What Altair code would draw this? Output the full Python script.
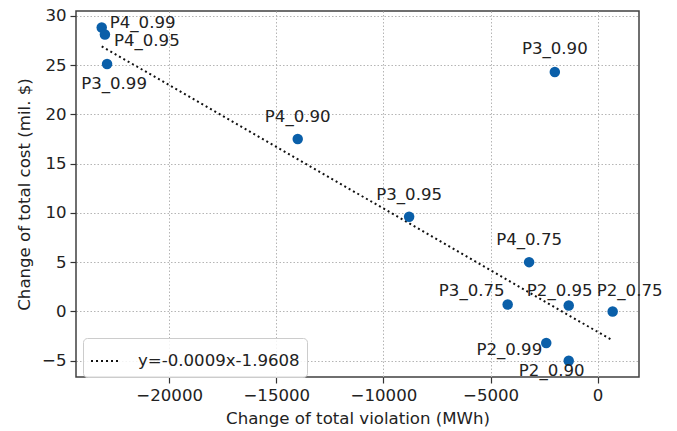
import altair as alt
import pandas as pd

# ---- data ----
labels = ["P4_0.99", "P4_0.95", "P3_0.99", "P4_0.90", "P3_0.90", "P3_0.95",
          "P4_0.75", "P3_0.75", "P2_0.95", "P2_0.75", "P2_0.99", "P2_0.90"]
violation = [-23150, -23000, -22900, -14000, -2000, -8800,
             -3200, -4200, -1350, 700, -2400, -1350]
cost = [28.8, 28.1, 25.1, 17.5, 24.3, 9.6, 5.0, 0.7, 0.6, 0.0, -3.2, -5.0]

trend_label = ["y=-0.0009x-1.9608"]
trend_x = [-23150, 700]
trend_y = [26.9, -2.95]

x_ticks = [-20000, -15000, -10000, -5000, 0]
y_ticks = [-5, 0, 5, 10, 15, 20, 25, 30]

# label placement (style, not data): dx, dy, align
label_style = {
    "P4_0.99": (8, -5, "left"),
    "P4_0.95": (9, 7, "left"),
    "P3_0.99": (7, 20, "center"),
    "P4_0.90": (0, -22, "center"),
    "P3_0.90": (0, -23, "center"),
    "P3_0.95": (0, -22, "center"),
    "P4_0.75": (0, -22, "center"),
    "P3_0.75": (-3, -14, "right"),
    "P2_0.95": (-9, -15, "center"),
    "P2_0.75": (17, -20, "center"),
    "P2_0.99": (-4, 7, "right"),
    "P2_0.90": (-17, 10, "center"),
}

pts = pd.DataFrame({"label": labels, "violation": violation, "cost": cost})
trend = pd.DataFrame({"violation": trend_x, "cost": trend_y,
                      "series": trend_label * len(trend_x)})

FONT = "DejaVu Sans"
FS = 16.6
xscale = alt.Scale(domain=[-24350, 1930], nice=False, zero=False)
yscale = alt.Scale(domain=[-6.65, 30.48], nice=False, zero=False)

axis_common = dict(
    labelFont=FONT, labelFontSize=FS, labelColor="#222",
    titleFont=FONT, titleFontSize=FS, titleFontWeight="normal", titleColor="#222",
    grid=True, gridDash=[1.5, 2], gridColor="#b5b5b5", gridWidth=1,
    domain=False, tickColor="#333", tickSize=6, tickWidth=1.2, labelPadding=4,
)

x_enc = alt.X("violation:Q", scale=xscale,
              axis=alt.Axis(title="Change of total violation (MWh)", values=x_ticks,
                            format="d", titlePadding=7, **axis_common))
y_enc = alt.Y("cost:Q", scale=yscale,
              axis=alt.Axis(title="Change of total cost (mil. $)", values=y_ticks,
                            format="d", titlePadding=9, **axis_common))

line = alt.Chart(trend).mark_line(strokeWidth=2, strokeDash=[2, 3]).encode(
    x=x_enc, y=y_enc,
    color=alt.Color("series:N", scale=alt.Scale(range=["#111111"]),
                    legend=alt.Legend(
                        title=None, orient="none", legendX=7, legendY=327,
                        symbolType="stroke", symbolDash=[2, 3], symbolStrokeWidth=2,
                        symbolSize=900, symbolStrokeColor="#111111",
                        labelFont=FONT, labelFontSize=FS, labelColor="#222",
                        labelLimit=0, labelOffset=16,
                        fillColor="rgba(255,255,255,0.85)",
                        strokeColor="#cccccc", cornerRadius=4, padding=7)),
)

points = alt.Chart(pts).mark_circle(size=110, opacity=1, color="#0a5fa9").encode(
    x="violation:Q", y="cost:Q")

text_layers = []
for lab in labels:
    dx, dy, align = label_style[lab]
    text_layers.append(
        alt.Chart(pts).transform_filter(alt.datum.label == lab).mark_text(
            font=FONT, fontSize=FS, color="#222", dx=dx, dy=dy, align=align,
            baseline="middle").encode(x="violation:Q", y="cost:Q", text="label:N"))

chart = alt.layer(line, points, *text_layers).properties(
    width=563, height=366,
    background="white",
    autosize=alt.AutoSizeParams(type="none"),
    padding={"left": 76, "top": 11, "right": 38, "bottom": 54},
).configure_view(stroke="#404040", strokeWidth=1.5)

chart.save("out.html", embed_options={"renderer": "svg", "actions": False})
